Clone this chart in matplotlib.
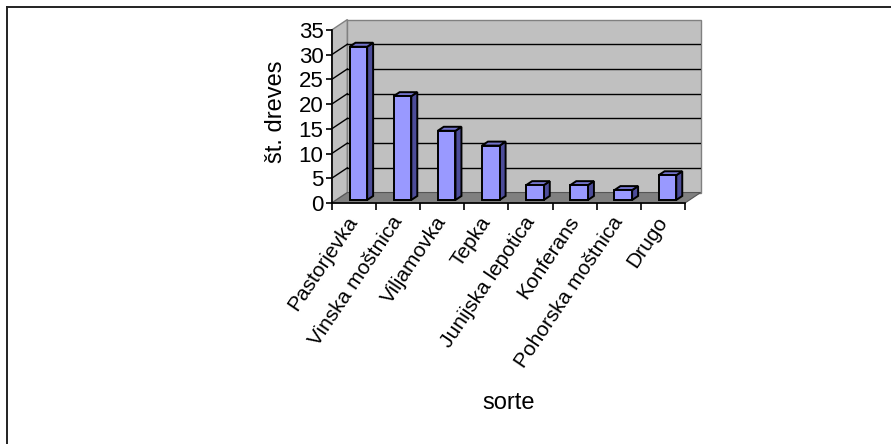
import matplotlib
matplotlib.use("Agg")
import matplotlib.pyplot as plt
from matplotlib.patches import Polygon
from matplotlib.lines import Line2D

plt.rcParams['font.family'] = ['Liberation Sans', 'DejaVu Sans']

# stevilo dreves po sortah
sorte = ['Pastorjevka', 'Vinska moštnica', 'Viljamovka', 'Tepka',
         'Junijska lepotica', 'Konferans', 'Pohorska moštnica', 'Drugo']
st_dreves = [31, 21, 14, 11, 3, 3, 2, 5]
y_ticks = [0, 5, 10, 15, 20, 25, 30, 35]

W, H = 891, 444
Y_MAX = 35
# globina 3D prostora (v enotah osi)
DX, DY = 0.3555, 2.12
# sprednji del stolpca in njegova globina (delez globine)
F_FRONT, F_DEPTH = 0.29, 0.38
BAR_W = 0.40

FRONT = '#9999FF'
SIDE = '#4C4C99'
TOP = '#7373CC'
WALL = '#C0C0C0'
FLOOR = '#808080'

fig = plt.figure(figsize=(W / 100, H / 100), dpi=100)

# izhodisce osi in merilo v pikslih
x0, y0 = 331.7, 203.0
sx, sy = 44.16, 4.943
n = len(sorte)
xlim = (0, n + DX)
ylim = (0, Y_MAX + DY)
ax = fig.add_axes([x0 / W, (H - y0) / H,
                   (xlim[1] - xlim[0]) * sx / W, (ylim[1] - ylim[0]) * sy / H])
ax.set_xlim(*xlim)
ax.set_ylim(*ylim)
ax.patch.set_visible(False)

# stranska stena, zadnja stena, tla
side = Polygon([(0, 0), (0, Y_MAX), (DX, Y_MAX + DY), (DX, DY)],
               facecolor=WALL, edgecolor=FLOOR, lw=1, zorder=1)
back = Polygon([(DX, DY), (n + DX, DY), (n + DX, Y_MAX + DY), (DX, Y_MAX + DY)],
               facecolor=WALL, edgecolor=FLOOR, lw=1, zorder=1)
floor = Polygon([(0, 0), (n, 0), (n + DX, DY), (DX, DY)],
                facecolor=FLOOR, edgecolor='#555555', lw=0.8, zorder=1.2)
for p in (side, back, floor):
    p.set_clip_on(False)
    ax.add_patch(p)

# mreza na zadnji in stranski steni
for v in y_ticks[1:-1]:
    ax.plot([DX, n + DX], [v + DY, v + DY], color='black', lw=1, zorder=1.1)
    ax.plot([0, DX], [v, v + DY], color='black', lw=1, zorder=1.1)

# 3D stolpci
for i, v in enumerate(st_dreves):
    xl = i + 0.5 - BAR_W / 2 + F_FRONT * DX
    xr = xl + BAR_W
    yb = F_FRONT * DY
    ddx, ddy = F_DEPTH * DX, F_DEPTH * DY
    face = Polygon([(xl, yb), (xr, yb), (xr, yb + v), (xl, yb + v)],
                   facecolor=FRONT, edgecolor='black', lw=1.4, zorder=3)
    right = Polygon([(xr, yb), (xr + ddx, yb + ddy), (xr + ddx, yb + ddy + v), (xr, yb + v)],
                    facecolor=SIDE, edgecolor='black', lw=1.4, zorder=3)
    top = Polygon([(xl, yb + v), (xr, yb + v), (xr + ddx, yb + v + ddy), (xl + ddx, yb + v + ddy)],
                  facecolor=TOP, edgecolor='black', lw=1.4, zorder=3)
    for p in (right, top, face):
        ax.add_patch(p)

# osi
for s in ('top', 'right'):
    ax.spines[s].set_visible(False)
ax.spines['left'].set_bounds(0, Y_MAX)
ax.spines['bottom'].set_bounds(0, n)
for s in ('left', 'bottom'):
    ax.spines[s].set_linewidth(1.2)
    ax.spines[s].set_zorder(4)

ax.set_yticks(y_ticks)
ax.set_yticklabels([str(t) for t in y_ticks])
ax.tick_params(axis='y', length=4, width=1.2, labelsize=16, pad=2)

ax.set_xticks(range(n + 1))
ax.set_xticklabels([])
ax.tick_params(axis='x', which='major', length=5, width=1.2)
ax.set_xticks([i + 0.5 for i in range(n)], minor=True)
ax.set_xticklabels(sorte, minor=True, rotation=56, ha='right',
                   rotation_mode='anchor', va='center', fontsize=15)
ax.tick_params(axis='x', which='minor', length=0, pad=11)

ax.set_ylabel('št. dreves', fontsize=17, labelpad=8)
fig.text(509 / W, 1 - 403 / H, 'sorte', fontsize=17, ha='center', va='center')

# okvir grafikona
fig.add_artist(Line2D([6.5 / W, 6.5 / W], [0, 1 - 7.5 / H], color='#222222', lw=1.4))
fig.add_artist(Line2D([6.5 / W, 1], [1 - 7.5 / H, 1 - 7.5 / H], color='#222222', lw=1.4))

fig.savefig('out.png', dpi=100)
